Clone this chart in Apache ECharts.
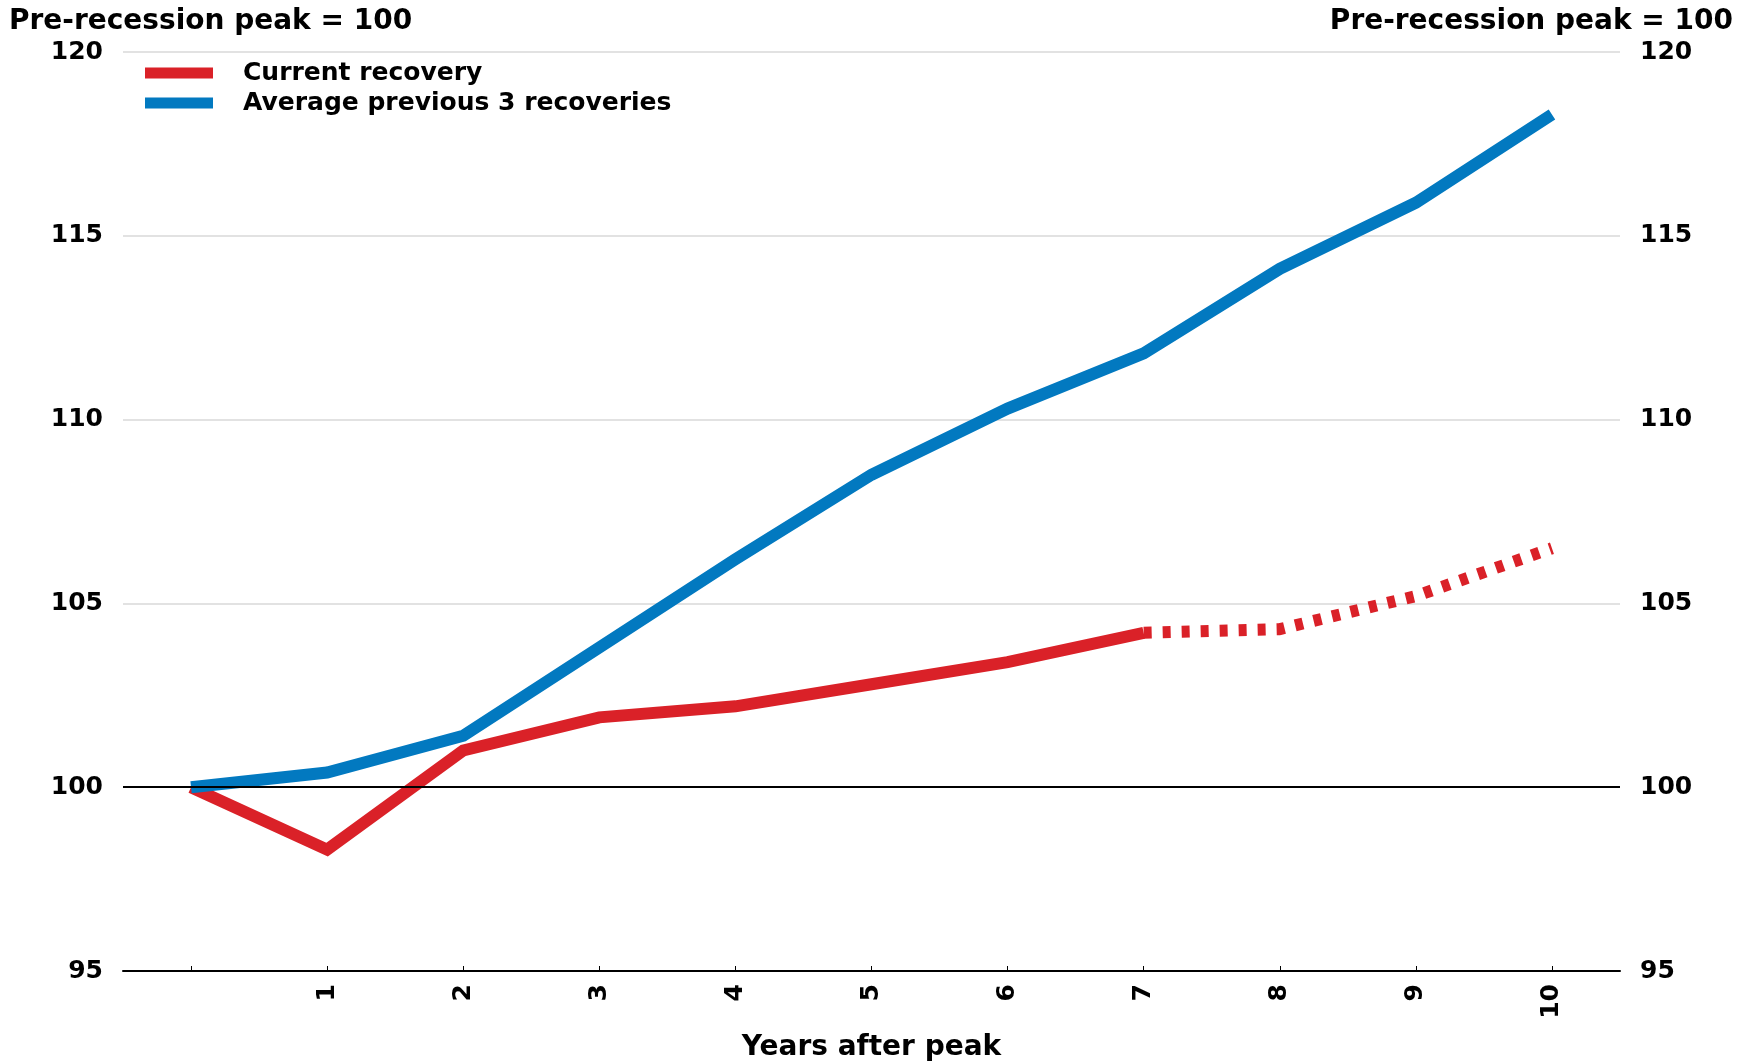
<!DOCTYPE html>
<html>
<head>
<meta charset="utf-8">
<script src="https://cdn.jsdelivr.net/npm/echarts@6/dist/echarts.min.js"></script>
<style>
  html, body { margin: 0; padding: 0; background: #ffffff; }
  #chart { width: 1754px; height: 1063px; }
</style>
</head>
<body>
<div id="chart"></div>
<script>
// ---- data ----
const years = ['0', '1', '2', '3', '4', '5', '6', '7', '8', '9', '10'];
const currentRecovery = [100, 98.3, 101.0, 101.9, 102.2, 102.8, 103.4, 104.2, null, null, null];
const currentProjection = [null, null, null, null, null, null, null, 104.2, 104.3, 105.2, 106.5];
const averagePrevious3 = [100, 100.4, 101.4, 103.8, 106.2, 108.5, 110.3, 111.8, 114.1, 115.9, 118.3];
const yMin = 95, yMax = 120, yStep = 5;
const baseline = 100;
const unitLabel = 'Pre-recession peak = 100';
const xAxisName = 'Years after peak';
const seriesNames = ['Current recovery', 'Average previous 3 recoveries'];

const RED = '#DA2128';
const BLUE = '#0279C0';
const FONT = 'DejaVu Sans';

const chart = echarts.init(document.getElementById('chart'));

const yAxisCommon = {
  type: 'value',
  min: yMin,
  max: yMax,
  interval: yStep,
  axisLine: { show: false },
  axisTick: { show: false },
  axisLabel: { color: '#000', fontFamily: FONT, fontWeight: 'bold', fontSize: 25, margin: 20 }
};

chart.setOption({
  backgroundColor: '#ffffff',
  animation: false,
  title: [
    { text: unitLabel, left: 9, top: 8, padding: 0,
      textStyle: { color: '#000', fontFamily: FONT, fontWeight: 'bold', fontSize: 28 } },
    { text: unitLabel, right: 21, top: 8, padding: 0,
      textStyle: { color: '#000', fontFamily: FONT, fontWeight: 'bold', fontSize: 28 } }
  ],
  legend: {
    data: seriesNames,
    orient: 'vertical',
    left: 145,
    top: 60,
    padding: 0,
    icon: 'rect',
    itemWidth: 68,
    itemHeight: 11,
    itemGap: 4,
    textStyle: { color: '#000', fontFamily: FONT, fontWeight: 'bold', fontSize: 25, lineHeight: 26, padding: [0, 0, 0, 25] }
  },
  grid: { left: 123, right: 134, top: 52, bottom: 92, containLabel: false, outerBoundsMode: 'none' },
  xAxis: {
    type: 'category',
    data: years,
    boundaryGap: true,
    name: xAxisName,
    nameLocation: 'middle',
    nameGap: 63,
    nameTextStyle: { color: '#000', fontFamily: FONT, fontWeight: 'bold', fontSize: 28 },
    axisLine: { show: true, lineStyle: { color: '#000', width: 2 } },
    axisTick: { show: true, alignWithLabel: true, inside: true, length: 5, lineStyle: { color: '#000', width: 1 } },
    axisLabel: {
      color: '#000', fontFamily: FONT, fontWeight: 'bold', fontSize: 25, rotate: 90, margin: 13,
      interval: 0,
      formatter: function (v) { return v === '0' ? '' : v; }
    },
    splitLine: { show: false }
  },
  yAxis: [
    Object.assign({}, yAxisCommon, {
      position: 'left',
      splitLine: { show: true, lineStyle: { color: '#d9d9d9', width: 1.5 } }
    }),
    Object.assign({}, yAxisCommon, {
      position: 'right',
      splitLine: { show: false }
    })
  ],
  series: [
    {
      name: '__baseline',
      type: 'line',
      data: [],
      z: 1,
      silent: true,
      markLine: {
        silent: true,
        symbol: 'none',
        label: { show: false },
        lineStyle: { color: '#000', width: 2, type: 'solid' },
        data: [{ yAxis: baseline }]
      }
    },
    {
      name: seriesNames[0],
      type: 'line',
      data: currentRecovery,
      showSymbol: false,
      symbol: 'none',
      z: 3,
      color: RED,
      lineStyle: { color: RED, width: 12, cap: 'butt', join: 'miter' }
    },
    {
      name: '__projection',
      type: 'line',
      data: currentProjection,
      showSymbol: false,
      symbol: 'none',
      z: 3,
      color: RED,
      lineStyle: { color: RED, width: 12, type: [8, 11], cap: 'butt' }
    },
    {
      name: seriesNames[1],
      type: 'line',
      data: averagePrevious3,
      showSymbol: false,
      symbol: 'none',
      z: 4,
      color: BLUE,
      lineStyle: { color: BLUE, width: 12, cap: 'butt', join: 'miter' }
    }
  ]
});
</script>
</body>
</html>
